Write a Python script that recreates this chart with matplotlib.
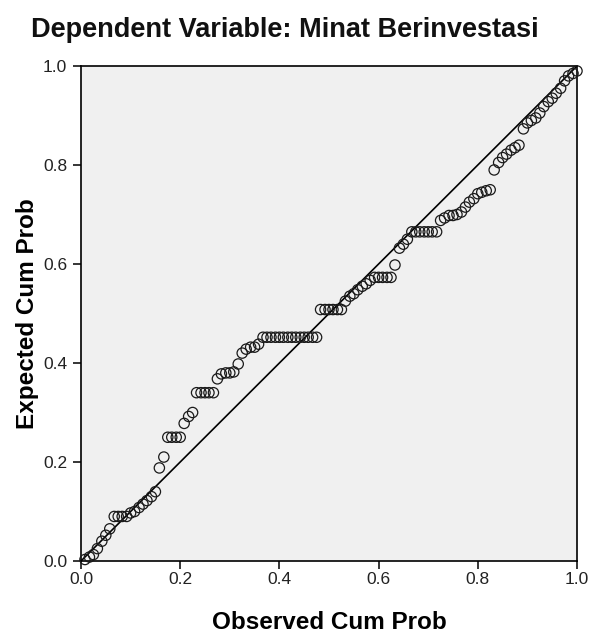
import matplotlib
matplotlib.use("Agg")
import matplotlib.pyplot as plt

title = "Dependent Variable: Minat Berinvestasi"
x_label = "Observed Cum Prob"
y_label = "Expected Cum Prob"
ticks = [0.0, 0.2, 0.4, 0.6, 0.8, 1.0]
tick_labels = ["0.0", "0.2", "0.4", "0.6", "0.8", "1.0"]

observed = [0.008, 0.017, 0.025, 0.033, 0.042, 0.050, 0.058,
            0.067, 0.075, 0.083, 0.092,
            0.100, 0.108,
            0.117, 0.125, 0.133, 0.142, 0.150,
            0.158, 0.167,
            0.175, 0.183, 0.192, 0.200,
            0.208, 0.217, 0.225,
            0.233, 0.242, 0.250, 0.258, 0.267,
            0.275, 0.283, 0.292, 0.300, 0.308,
            0.317,
            0.325, 0.333, 0.342, 0.350, 0.358,
            0.367, 0.375, 0.383, 0.392, 0.400, 0.408, 0.417, 0.425,
            0.433, 0.442, 0.450, 0.458, 0.467, 0.475,
            0.483, 0.492, 0.500, 0.508, 0.517, 0.525,
            0.533, 0.542, 0.550, 0.558, 0.567, 0.575, 0.583,
            0.592, 0.600, 0.608, 0.617, 0.625,
            0.633,
            0.642, 0.650, 0.658,
            0.667, 0.675, 0.683, 0.692, 0.700, 0.708, 0.717,
            0.725, 0.733, 0.742, 0.750, 0.758, 0.767,
            0.775, 0.783, 0.792,
            0.800, 0.808, 0.817, 0.825,
            0.833, 0.842, 0.850, 0.858, 0.867, 0.875, 0.883,
            0.892, 0.900, 0.908, 0.917, 0.925, 0.933, 0.942, 0.950, 0.958, 0.967,
            0.975, 0.983, 0.992, 1.000]

expected = [0.003, 0.008, 0.013, 0.025, 0.040, 0.052, 0.065,
            0.090, 0.090, 0.090, 0.090,
            0.097, 0.100,
            0.108, 0.115, 0.122, 0.130, 0.140,
            0.188, 0.210,
            0.250, 0.250, 0.250, 0.250,
            0.278, 0.292, 0.300,
            0.340, 0.340, 0.340, 0.340, 0.340,
            0.368, 0.378, 0.380, 0.380, 0.382,
            0.398,
            0.420, 0.428, 0.432, 0.432, 0.438,
            0.452, 0.452, 0.452, 0.452, 0.452, 0.452, 0.452, 0.452,
            0.452, 0.452, 0.452, 0.452, 0.452, 0.452,
            0.508, 0.508, 0.508, 0.508, 0.508, 0.508,
            0.525, 0.535, 0.540, 0.548, 0.555, 0.560, 0.567,
            0.573, 0.573, 0.573, 0.573, 0.573,
            0.598,
            0.632, 0.640, 0.650,
            0.665, 0.665, 0.665, 0.665, 0.665, 0.665, 0.665,
            0.688, 0.693, 0.698, 0.698, 0.700, 0.705,
            0.715, 0.725, 0.732,
            0.742, 0.745, 0.748, 0.750,
            0.790, 0.805, 0.815, 0.822, 0.830, 0.835, 0.840,
            0.873, 0.885, 0.890, 0.895, 0.905, 0.918, 0.928, 0.935, 0.945, 0.955,
            0.970, 0.980, 0.985, 0.990]

plt.rcParams['font.family'] = ['Liberation Sans', 'DejaVu Sans']

W, H = 591, 637
fig = plt.figure(figsize=(W / 100, H / 100), dpi=100)
ax = fig.add_axes([81 / W, (H - 561) / H, 496 / W, 495 / H])
ax.set_facecolor("#f0f0f0")

ax.plot([0, 1], [0, 1], color="black", lw=1.2, zorder=2)
ax.scatter(observed, expected, s=55, facecolors="none", edgecolors="#1a1a1a",
           linewidths=0.9, zorder=3, clip_on=False)

ax.set_xlim(0, 1)
ax.set_ylim(0, 1)
ax.set_xticks(ticks)
ax.set_xticklabels(tick_labels)
ax.set_yticks(ticks)
ax.set_yticklabels(tick_labels)
ax.tick_params(direction="out", length=6, width=1.1, labelsize=12.5,
               colors="black", labelcolor="#222222", pad=2)
ax.tick_params(axis="y", pad=4)
for s in ax.spines.values():
    s.set_linewidth(1.2)
    s.set_color("black")

ax.set_xlabel(x_label, fontsize=17.5, fontweight="bold", labelpad=17)
ax.set_ylabel(y_label, fontsize=17.5, fontweight="bold", labelpad=3)
fig.text(285 / W, 1 - 30 / H, title, fontsize=19.5, fontweight="bold",
         ha="center", va="center", color="#111111")

fig.savefig("out.png", dpi=100)
